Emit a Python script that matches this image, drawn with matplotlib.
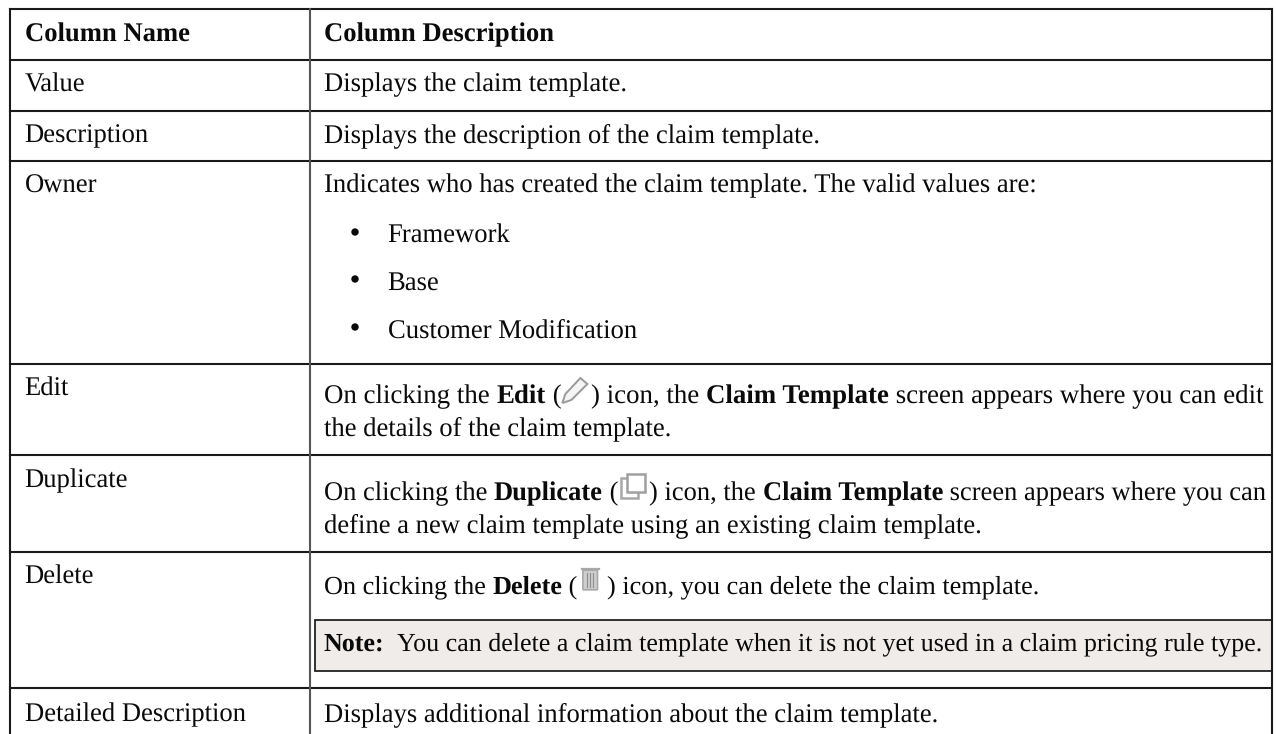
import matplotlib
matplotlib.use("Agg")
import matplotlib.pyplot as plt
from matplotlib.patches import Rectangle, Polygon, Circle, FancyBboxPatch

plt.rcParams['font.family'] = ['Liberation Serif', 'DejaVu Sans']
plt.rcParams['text.hinting'] = 'no_hinting'

W, H = 1276, 734
FS = 19.15

# table layout
col_x = [10, 309.5, 1272]
row_y = [9, 60, 110.5, 161, 363.7, 455, 552, 688]
header = ["Column Name", "Column Description"]
names = ["Value", "Description", "Owner", "Edit", "Duplicate", "Delete", "Detailed Description"]
name_x = [25, 24.4, 25, 24.4, 24.4, 24.4, 25]
name_y = [91, 142, 192, 395, 487, 583, 721]
owners = ["Framework", "Base", "Customer Modification"]
owner_x = [387.5, 387.5, 388]
owner_y = [242, 289, 337]

fig = plt.figure(figsize=(W / 100, H / 100), dpi=100)
ax = fig.add_axes([0, 0, 1, 1])
ax.set_xlim(0, W)
ax.set_ylim(H, 0)
ax.axis('off')


def put(x, y, s, bold=False, fs=FS):
    # strings with no descender get rounded a pixel high by agg, nudge them
    if not any(c in s for c in 'gjpqy,()'):
        y += 0.7
    t = ax.text(x, y, s, fontsize=fs, va='baseline', ha='left', color='#0a0a0a',
                fontweight='bold' if bold else 'normal')
    return t


def width(t):
    r = fig.canvas.get_renderer()
    return t.get_window_extent(r).width


def runs(x, y, parts, fs=FS):
    # parts are (text, bold) or a gap in pixels for an icon
    pos = {}
    for p in parts:
        if isinstance(p, tuple):
            t = put(x, y, p[0], p[1], fs)
            x += width(t)
        else:
            pos[p[0]] = x
            x += p[1]
    return pos


def gap(name, w):
    return [name, w]


# Note box goes under the grid text
ax.add_patch(Rectangle((315, 620), 957, 51, fc='#f0ecea', ec='#222222', lw=1.3, zorder=0))

# grid
for y in row_y:
    ax.plot([col_x[0], col_x[2]], [y, y], color='#1a1a1a', lw=1.5, solid_capstyle='projecting')
ax.plot([col_x[0], col_x[0]], [row_y[0], H], color='#1a1a1a', lw=1.5)
ax.plot([col_x[1], col_x[1]], [row_y[0], H], color='#555555', lw=1.5)
ax.plot([col_x[2], col_x[2]], [row_y[0], H], color='#1a1a1a', lw=1.5)

# header
put(25, 41, header[0], True)
put(324, 41, header[1], True)

# left column
for x, y, n in zip(name_x, name_y, names):
    put(x, y, n)

# right column
put(324, 91, "Displays the claim template.")
put(324, 142, "Displays the description of the claim template.")
put(324, 192, "Indicates who has created the claim template. The valid values are:")
for x, y, o in zip(owner_x, owner_y, owners):
    ax.add_patch(Circle((355, y - 10), 3.7, fc='#0a0a0a', ec='none'))
    put(x, y, o)

edit = runs(324, 403, [("On clicking the ", False), ("Edit", True), (" (", False), gap('icon', 30),
                       (") icon, the ", False), ("Claim Template", True),
                       (" screen appears where you can edit", False)], 19.37)
put(324, 435, "the details of the claim template.")

dup = runs(324, 500, [("On clicking the ", False), ("Duplicate", True), (" (", False), gap('icon', 31),
                      (") icon, the ", False), ("Claim Template", True),
                      (" screen appears where you can", False)], 19.1)
put(324, 532, "define a new claim template using an existing claim template.")

dele = runs(324, 593, [("On clicking the ", False), ("Delete", True), (" (", False), gap('icon', 29),
                       (") icon, you can delete the claim template.", False)], 18.95)

runs(324, 650, [("Note:", True), ("  You can delete a claim template when it is not yet used in a claim pricing rule type.", False)], 18.75)

put(324, 721, "Displays additional information about the claim template.")

# icons
x = edit['icon']
ax.add_patch(Polygon([(x + 1, 403), (x + 4, 394), (x + 19, 378), (x + 26, 384), (x + 10, 400)],
                     closed=True, fc='#f4f4f4', ec='#9a9a9a', lw=1.4))
x = dup['icon']
ax.add_patch(Rectangle((x + 3, 478), 17, 20, fc='white', ec='#a8a8a8', lw=1.8))
ax.add_patch(Rectangle((x + 9, 474), 18, 18, fc='white', ec='#a0a0a0', lw=1.8))
x = dele['icon']
ax.add_patch(FancyBboxPatch((x + 6, 571), 13, 18, boxstyle='round,pad=0.8', fc='#cfcfcf', ec='#a8a8a8', lw=1.2))
ax.plot([x + 4, x + 21], [569, 569], color='#a8a8a8', lw=1.6)
for dx in [9, 12, 15]:
    ax.plot([x + dx, x + dx], [573, 587], color='#909090', lw=0.9)

fig.savefig('out.png', dpi=100)
